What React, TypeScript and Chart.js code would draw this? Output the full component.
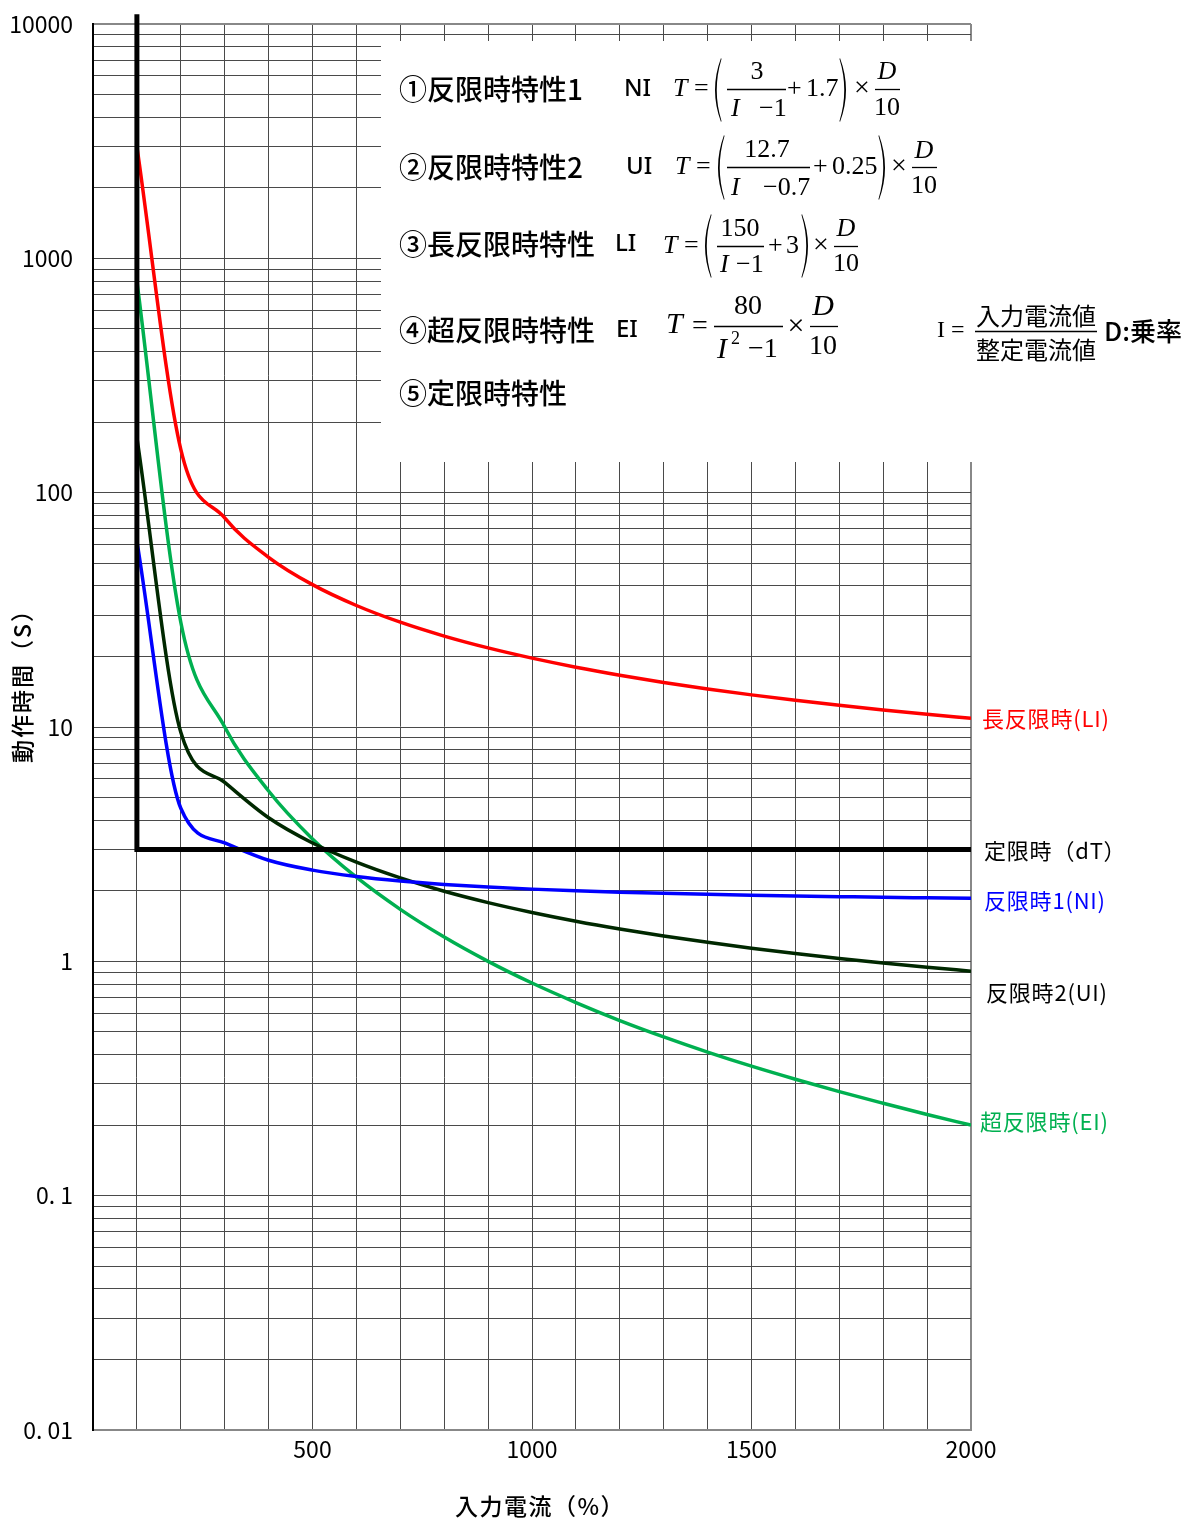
import React, { useEffect, useRef } from 'react';
import { Chart, registerables } from 'chart.js';

Chart.register(...registerables);

// ---------- data ----------
const CURRENT_PCT = [100, 200, 300, 400, 500, 600, 700, 800, 900, 1000, 1100, 1200, 1300, 1400, 1500, 1600, 1700, 1800, 1900, 2000];
const LI_TIME = [3000, 153, 78, 53, 40.5, 33, 28, 24.43, 21.75, 19.67, 18, 16.64, 15.5, 14.54, 13.71, 13, 12.375, 11.82, 11.33, 10.89];
const NI_TIME = [62, 4.5, 3.2, 2.7, 2.45, 2.3, 2.2, 2.129, 2.075, 2.033, 2.0, 1.973, 1.95, 1.931, 1.914, 1.9, 1.888, 1.876, 1.867, 1.858];
const UI_TIME = [172, 9.5, 5.8, 4.1, 3.2, 2.65, 2.27, 1.99, 1.78, 1.616, 1.483, 1.374, 1.283, 1.205, 1.138, 1.08, 1.029, 0.984, 0.944, 0.908];
const EI_TIME = [800, 28, 10, 5.33, 3.33, 2.286, 1.667, 1.27, 1.0, 0.808, 0.667, 0.559, 0.476, 0.41, 0.357, 0.314, 0.278, 0.248, 0.222, 0.2];
const DT_CURRENT = [100, 100, 2000];
const DT_TIME = [11000, 3, 3];

const X_LABELED = [500, 1000, 1500, 2000];
const Y_MAJOR = [0.01, 0.1, 1, 10, 100, 1000, 10000];
const Y_MAJOR_LABELS = ['0. 01', '0. 1', '1', '10', '100', '1000', '10000'];

const SERIES_LABELS = ['定限時（dT）', '長反限時(LI)', '反限時1(NI)', '反限時2(UI)', '超反限時(EI)'];
const X_TITLE = '入力電流（%）';
const Y_TITLE = '動作時間（S）';

// ---------- styles ----------
const JP = '"Noto Sans CJK JP", "Noto Sans", sans-serif';
const SANS = '"Noto Sans", "Liberation Sans", sans-serif';
const SERIF = '"Liberation Serif", "DejaVu Serif", serif';
const COLORS = ['#000000', '#ff0000', '#0000ff', '#002800', '#00b050'];
const LABEL_COLORS = ['#000000', '#ff0000', '#0000ff', '#000000', '#00b050'];
const LABEL_DX = [13, 11, 13, 15, 9];
const LABEL_DY = [1, 0, 2, 21, -3];
const GRID = '#4a4a4a';
const FRAME = '#888888';

function txt(ctx: CanvasRenderingContext2D, s: string, x: number, y: number, font: string, align: CanvasTextAlign = 'left', color = '#000', spacing = '0px') {
  ctx.font = font;
  ctx.fillStyle = color;
  ctx.textAlign = align;
  ctx.textBaseline = 'middle';
  (ctx as any).letterSpacing = spacing;
  ctx.fillText(s, x, y);
  (ctx as any).letterSpacing = '0px';
}
function hbar(ctx: CanvasRenderingContext2D, x1: number, x2: number, y: number) {
  ctx.beginPath();
  ctx.moveTo(x1, y + 0.5);
  ctx.lineTo(x2, y + 0.5);
  ctx.lineWidth = 1.3;
  ctx.strokeStyle = '#000';
  ctx.stroke();
}
function paren(ctx: CanvasRenderingContext2D, x: number, y1: number, y2: number, left: boolean) {
  const m = (y1 + y2) / 2;
  const s = left ? 1 : -1;
  ctx.beginPath();
  ctx.moveTo(x + 5 * s, y1);
  ctx.quadraticCurveTo(x - 7 * s, m, x + 5 * s, y2);
  ctx.lineTo(x + 5.5 * s, y2 - 1);
  ctx.quadraticCurveTo(x - 4 * s, m, x + 5.5 * s, y1 + 1);
  ctx.closePath();
  ctx.fillStyle = '#000';
  ctx.fill();
}

function drawFormulas(ctx: CanvasRenderingContext2D) {
  const jp = `500 28px ${JP}`;
  const sa = `500 24px ${SANS}`;
  const it = `italic 26px ${SERIF}`;
  const rm = `26px ${SERIF}`;
  const mul = `28px ${SERIF}`;
  // 1
  txt(ctx, '①反限時特性1', 399, 89, jp);
  txt(ctx, 'NI', 624, 89, sa);
  txt(ctx, 'T', 673, 89, it);
  txt(ctx, '=', 694, 89, rm);
  paren(ctx, 716, 58, 122, true);
  txt(ctx, '3', 757, 72, rm, 'center');
  hbar(ctx, 727, 786, 89);
  txt(ctx, 'I', 731, 109, it);
  txt(ctx, '\u22121', 759, 109, rm);
  txt(ctx, '+', 787, 89, rm);
  txt(ctx, '1.7', 806, 89, rm);
  paren(ctx, 845, 58, 122, false);
  txt(ctx, '×', 862, 89, mul, 'center');
  txt(ctx, 'D', 887, 72, it, 'center');
  hbar(ctx, 875, 900, 89);
  txt(ctx, '10', 887, 108, rm, 'center');
  // 2
  txt(ctx, '②反限時特性2', 399, 167, jp);
  txt(ctx, 'UI', 626, 167, sa);
  txt(ctx, 'T', 675, 167, it);
  txt(ctx, '=', 696, 167, rm);
  paren(ctx, 719, 135, 200, true);
  txt(ctx, '12.7', 767, 150, rm, 'center');
  hbar(ctx, 727, 810, 167);
  txt(ctx, 'I', 731, 188, it);
  txt(ctx, '\u22120.7', 763, 188, rm);
  txt(ctx, '+', 813, 167, rm);
  txt(ctx, '0.25', 832, 167, rm);
  paren(ctx, 884, 135, 200, false);
  txt(ctx, '×', 899, 167, mul, 'center');
  txt(ctx, 'D', 924, 151, it, 'center');
  hbar(ctx, 912, 937, 167);
  txt(ctx, '10', 924, 186, rm, 'center');
  // 3
  txt(ctx, '③長反限時特性', 399, 244, jp);
  txt(ctx, 'LI', 615, 244, sa);
  txt(ctx, 'T', 663, 246, it);
  txt(ctx, '=', 684, 246, rm);
  paren(ctx, 706, 214, 278, true);
  txt(ctx, '150', 740, 229, rm, 'center');
  hbar(ctx, 717, 764, 246);
  txt(ctx, 'I', 720, 265, it);
  txt(ctx, '\u22121', 736, 265, rm);
  txt(ctx, '+', 768, 246, rm);
  txt(ctx, '3', 786, 246, rm);
  paren(ctx, 807, 214, 278, false);
  txt(ctx, '×', 821, 246, mul, 'center');
  txt(ctx, 'D', 846, 229, it, 'center');
  hbar(ctx, 834, 858, 246);
  txt(ctx, '10', 846, 264, rm, 'center');
  // 4
  const it4 = `italic 30px ${SERIF}`;
  const rm4 = `28px ${SERIF}`;
  txt(ctx, '④超反限時特性', 399, 330, jp);
  txt(ctx, 'EI', 616, 330, sa);
  txt(ctx, 'T', 666, 325, it4);
  txt(ctx, '=', 692, 327, rm4);
  txt(ctx, '80', 748, 307, rm4, 'center');
  hbar(ctx, 714, 783, 326);
  txt(ctx, 'I', 717, 350, it4);
  txt(ctx, '2', 731, 339, `18px ${SERIF}`);
  txt(ctx, '\u22121', 748, 350, rm4);
  txt(ctx, '×', 796, 327, `30px ${SERIF}`, 'center');
  txt(ctx, 'D', 823, 307, it4, 'center');
  hbar(ctx, 810, 838, 326);
  txt(ctx, '10', 823, 347, rm4, 'center');
  // 5
  txt(ctx, '⑤定限時特性', 399, 393, jp);
  // note
  txt(ctx, 'I =', 937, 331, `24px ${SERIF}`);
  hbar(ctx, 975, 1097, 331);
  txt(ctx, '入力電流値', 1036, 316, `24px ${JP}`, 'center');
  txt(ctx, '整定電流値', 1036, 350, `24px ${JP}`, 'center');
  txt(ctx, 'D:乗率', 1104, 331, `500 26px ${JP}`);
}

const overlayPlugin = {
  id: 'overlay',
  beforeDatasetsDraw(chart: any) {
    const ctx = chart.ctx as CanvasRenderingContext2D;
    ctx.save();
    ctx.fillStyle = '#ffffff';
    ctx.fillRect(381, 41, 600, 421);
    ctx.restore();
  },
  afterDatasetsDraw(chart: any) {
    const ctx = chart.ctx as CanvasRenderingContext2D;
    const { chartArea, scales } = chart;
    ctx.save();
    drawFormulas(ctx);
    const lastVals = [DT_TIME[DT_TIME.length - 1], LI_TIME[LI_TIME.length - 1], NI_TIME[NI_TIME.length - 1], UI_TIME[UI_TIME.length - 1], EI_TIME[EI_TIME.length - 1]];
    lastVals.forEach((v, i) => {
      const y = scales.y.getPixelForValue(v) + LABEL_DY[i];
      txt(ctx, SERIES_LABELS[i], chartArea.right + LABEL_DX[i], y, `22px ${JP}`, 'left', LABEL_COLORS[i], '0.8px');
    });
    // axis titles
    txt(ctx, X_TITLE, 540, 1506, `500 23px ${JP}`, 'center', '#000', '1.5px');
    ctx.save();
    ctx.translate(22, 680);
    ctx.rotate(-Math.PI / 2);
    txt(ctx, Y_TITLE, 0, 0, `500 23px ${JP}`, 'center', '#000', '2px');
    ctx.restore();
    ctx.restore();
  },
};

const pts = (xs: number[], ys: number[]) => xs.map((x, i) => ({ x, y: ys[i] }));

export default function App() {
  const ref = useRef<HTMLCanvasElement | null>(null);
  useEffect(() => {
    if (!ref.current) return;
    const curve = (data: any, color: string, label: string) => ({
      label,
      data,
      borderColor: color,
      backgroundColor: color,
      borderWidth: 3.5,
      pointRadius: 0,
      cubicInterpolationMode: 'monotone' as const,
      fill: false,
    });
    const chart = new Chart(ref.current, {
      type: 'line',
      data: {
        datasets: [
          {
            label: SERIES_LABELS[0],
            data: pts(DT_CURRENT, DT_TIME),
            borderColor: COLORS[0],
            borderWidth: 5,
            pointRadius: 0,
            tension: 0,
            borderJoinStyle: 'miter',
            clip: { left: 10, top: 20, right: 5, bottom: 5 },
          } as any,
          curve(pts(CURRENT_PCT, LI_TIME), COLORS[1], SERIES_LABELS[1]),
          curve(pts(CURRENT_PCT, NI_TIME), COLORS[2], SERIES_LABELS[2]),
          curve(pts(CURRENT_PCT, UI_TIME), COLORS[3], SERIES_LABELS[3]),
          curve(pts(CURRENT_PCT, EI_TIME), COLORS[4], SERIES_LABELS[4]),
        ],
      },
      options: {
        animation: false,
        responsive: false,
        devicePixelRatio: 1,
        layout: { padding: { left: 0, top: 24, right: 223, bottom: 0 } },
        plugins: { legend: { display: false }, tooltip: { enabled: false } },
        scales: {
          x: {
            type: 'linear',
            min: 0,
            max: 2000,
            afterFit: (s: any) => { s.height = 90; s.paddingLeft = 0; s.paddingRight = 0; },
            grid: {
              drawTicks: false,
              color: (c: any) => (c.tick && c.tick.value === 2000 ? FRAME : c.tick && c.tick.value === 0 ? '#000' : GRID),
              lineWidth: (c: any) => (c.tick && (c.tick.value === 2000 || c.tick.value === 0) ? 2 : 1),
            },
            border: { color: FRAME, width: 2 },
            ticks: {
              stepSize: 100,
              autoSkip: false,
              maxRotation: 0,
              padding: 5,
              color: '#000',
              font: { family: JP, size: 23 },
              callback: (v: any) => (X_LABELED.includes(Number(v)) ? String(v) : ''),
            },
          },
          y: {
            type: 'logarithmic',
            min: 0.01,
            max: 10000,
            afterBuildTicks: (s: any) => {
              const t: any[] = [];
              for (let e = -2; e <= 3; e++) {
                for (let m = 1; m <= 9; m++) t.push({ value: Number((m * Math.pow(10, e)).toPrecision(3)) });
              }
              t.push({ value: 10000 });
              s.ticks = t;
            },
            afterFit: (s: any) => { s.width = 93; s.paddingTop = 0; s.paddingBottom = 0; },
            grid: {
              drawTicks: false,
              color: (c: any) => (c.tick && c.tick.value === 10000 ? FRAME : GRID),
              lineWidth: (c: any) => (c.tick && c.tick.value === 10000 ? 2 : 1),
            },
            border: { color: '#000', width: 2 },
            ticks: {
              autoSkip: false,
              padding: 20,
              color: '#000',
              font: { family: JP, size: 23 },
              callback: (v: any) => {
                const i = Y_MAJOR.findIndex((m) => Math.abs(m - Number(v)) / m < 1e-6);
                return i >= 0 ? Y_MAJOR_LABELS[i] : '';
              },
            },
          },
        },
      },
      plugins: [overlayPlugin],
    } as any);
    return () => chart.destroy();
  }, []);
  return (
    <div style={{ position: 'absolute', left: 0, top: 0, width: 1194, height: 1520, background: '#fff' }}>
      <canvas ref={ref} width={1194} height={1520} style={{ display: 'block', width: 1194, height: 1520 }} />
    </div>
  );
}
